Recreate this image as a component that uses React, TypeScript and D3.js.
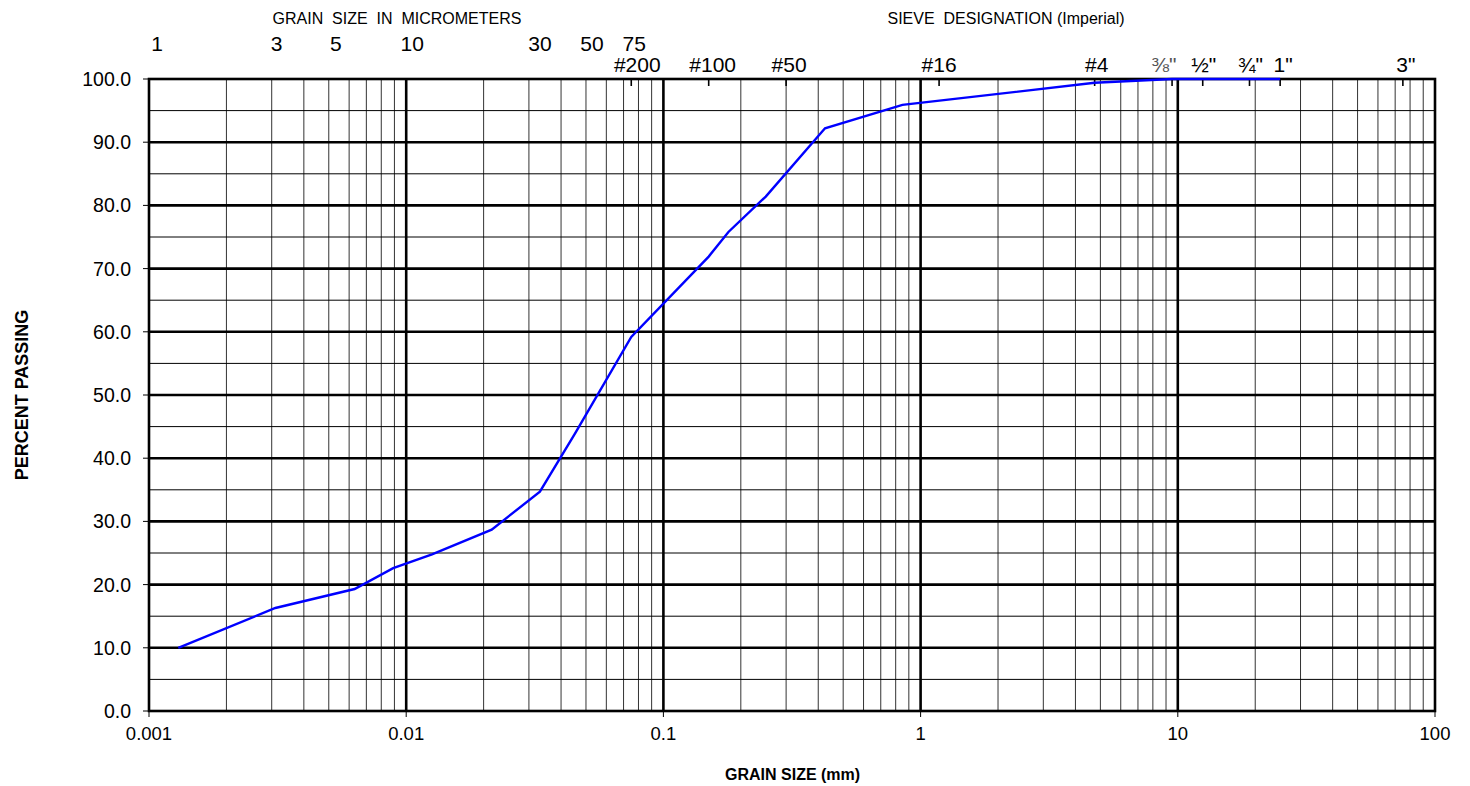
import React, { useEffect, useRef } from 'react';
import * as d3 from 'd3';

// grain size distribution (mm, % passing)
const grainSize = [0.0013, 0.0031, 0.0063, 0.0089, 0.0126, 0.0215, 0.0331, 0.0453, 0.075, 0.15, 0.179, 0.25, 0.425, 0.85, 4.75, 9.5, 12.5, 19, 25];
const percentPassing = [10.0, 16.3, 19.3, 22.6, 24.8, 28.7, 34.7, 43.9, 59.2, 71.9, 75.8, 81.4, 92.2, 95.9, 99.4, 100, 100, 100, 100];

const decadeLabels = ['0.001', '0.01', '0.1', '1', '10', '100'];
const yTicks = [0, 10, 20, 30, 40, 50, 60, 70, 80, 90, 100];

const micronSizes = [1, 3, 5, 10, 30, 50, 75];
const sieveNames = ['#200', '#100', '#50', '#16', '#4', '⅜"', '½"', '¾"', '1"', '3"'];
const sieveSizes = [0.075, 0.15, 0.3, 1.18, 4.75, 9.5, 12.5, 19, 25, 75];

const App = () => {
    const ref = useRef<SVGSVGElement>(null);

    useEffect(() => {
        const margin = { top: 79, right: 35, bottom: 75, left: 149 },
            W = 1470, H = 786,
            width = W - margin.left - margin.right,
            height = H - margin.top - margin.bottom;

        const root = d3.select(ref.current);
        root.selectAll('*').remove();
        const svg = root.append('g').attr('transform', `translate(${margin.left}, ${margin.top})`);

        const x = d3.scaleLog().domain([0.001, 100]).range([0, width]);
        const y = d3.scaleLinear().domain([0, 100]).range([height, 0]);

        const font = '"Liberation Sans", Arial, sans-serif';
        const narrow = '"Liberation Sans Narrow", "Liberation Sans", Arial, sans-serif';

        // vertical grid
        const minors: number[] = [];
        for (let e = -3; e < 2; e++) {
            for (let m = 2; m <= 9; m++) minors.push(m * Math.pow(10, e));
        }
        svg.append('g').selectAll('line').data(minors).join('line')
            .attr('x1', d => x(d)).attr('x2', d => x(d))
            .attr('y1', 0).attr('y2', height)
            .attr('stroke', '#333').attr('stroke-width', 1);

        // horizontal grid, every 5%
        const hLines = d3.range(5, 100, 5);
        svg.append('g').selectAll('line').data(hLines).join('line')
            .attr('x1', 0).attr('x2', width)
            .attr('y1', d => y(d)).attr('y2', d => y(d))
            .attr('stroke', '#000')
            .attr('stroke-width', d => (d % 10 === 0 ? 2.6 : 1));

        // decades
        const decades = [0.01, 0.1, 1, 10];
        svg.append('g').selectAll('line').data(decades).join('line')
            .attr('x1', d => x(d)).attr('x2', d => x(d))
            .attr('y1', 0).attr('y2', height)
            .attr('stroke', '#000').attr('stroke-width', 2.6);

        // frame
        svg.append('rect').attr('x', 0).attr('y', 0).attr('width', width).attr('height', height)
            .attr('fill', 'none').attr('stroke', '#000').attr('stroke-width', 2.6);

        // y axis
        svg.append('g').selectAll('line').data(yTicks).join('line')
            .attr('x1', -6).attr('x2', 0)
            .attr('y1', d => y(d)).attr('y2', d => y(d))
            .attr('stroke', '#000').attr('stroke-width', 1);
        svg.append('g').selectAll('text').data(yTicks).join('text')
            .attr('x', -18).attr('y', d => y(d)).attr('dy', '0.36em')
            .attr('text-anchor', 'end').attr('font-family', font).attr('font-size', 19.5)
            .text(d => d.toFixed(1));

        // x axis
        const xVals = [0.001, 0.01, 0.1, 1, 10, 100];
        svg.append('g').selectAll('line').data(xVals).join('line')
            .attr('x1', d => x(d)).attr('x2', d => x(d))
            .attr('y1', height).attr('y2', height + 6)
            .attr('stroke', '#000').attr('stroke-width', 1);
        svg.append('g').selectAll('text').data(xVals).join('text')
            .attr('x', d => x(d)).attr('y', height + 29)
            .attr('text-anchor', 'middle').attr('font-family', font).attr('font-size', 18.5)
            .text((d, i) => decadeLabels[i]);

        // sieve ticks
        svg.append('g').selectAll('line').data(sieveSizes).join('line')
            .attr('x1', d => x(d)).attr('x2', d => x(d))
            .attr('y1', 0).attr('y2', 7)
            .attr('stroke', '#000').attr('stroke-width', 1.6);
        const sieveShift = [6, 4, 3, 0, 2, -8, 1, 1, 3, 3];
        svg.append('g').selectAll('text').data(sieveSizes).join('text')
            .attr('x', (d, i) => x(d) + sieveShift[i]).attr('y', -7)
            .attr('text-anchor', 'middle').attr('font-family', narrow).attr('font-size', 21)
            .attr('fill', (d, i) => (i === 5 ? '#555' : '#000'))
            .text((d, i) => sieveNames[i]);

        // micrometer labels
        const micronShift = [8, 5, 7, 6, 11, 6, 3];
        svg.append('g').selectAll('text').data(micronSizes).join('text')
            .attr('x', (d, i) => x(d / 1000) + micronShift[i]).attr('y', -28)
            .attr('text-anchor', 'middle').attr('font-family', narrow).attr('font-size', 21)
            .text(d => String(d));

        svg.append('text').attr('x', 397 - margin.left).attr('y', -55)
            .attr('text-anchor', 'middle').attr('font-family', narrow).attr('font-size', 16)
            .style('white-space', 'pre')
            .text('GRAIN  SIZE  IN  MICROMETERS');
        svg.append('text').attr('x', 1006 - margin.left).attr('y', -55)
            .attr('text-anchor', 'middle').attr('font-family', narrow).attr('font-size', 16)
            .style('white-space', 'pre')
            .text('SIEVE  DESIGNATION (Imperial)');

        // titles
        svg.append('text').attr('x', x(1) - 128).attr('y', height + 69)
            .attr('text-anchor', 'middle').attr('font-family', font).attr('font-size', 16)
            .attr('font-weight', 'bold').text('GRAIN SIZE (mm)');
        svg.append('text')
            .attr('transform', `translate(${28 - margin.left}, ${y(50)}) rotate(-90)`)
            .attr('text-anchor', 'middle').attr('font-family', font).attr('font-size', 18)
            .attr('font-weight', 'bold').text('PERCENT PASSING');

        // curve
        const line = d3.line<number>()
            .x(d => x(d))
            .y((d, i) => y(percentPassing[i]));
        svg.append('path').datum(grainSize)
            .attr('d', line)
            .attr('fill', 'none').attr('stroke', '#0000ff').attr('stroke-width', 2.4);
    }, []);

    return (
        <div className="App">
            <svg ref={ref} width={1470} height={786} style={{ position: 'absolute', left: 0, top: 0, background: '#fff' }}></svg>
        </div>
    );
};

export default App;
